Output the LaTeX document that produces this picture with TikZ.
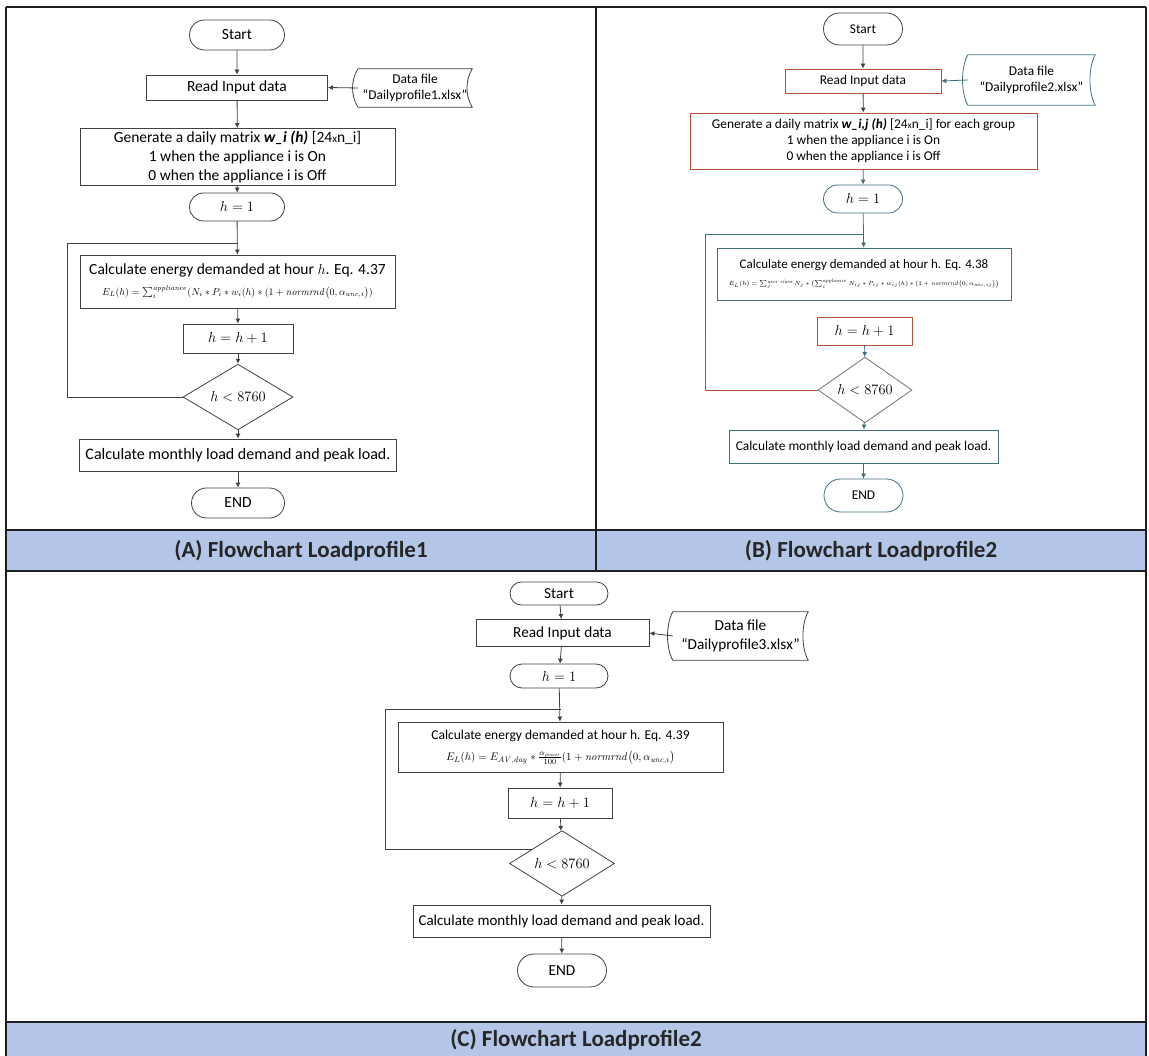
\documentclass[tikz,border=0pt]{standalone}
\usepackage{amsmath}
\usepackage[no-math]{fontspec}
\setmainfont{Carlito}
\usetikzlibrary{shapes.misc,shapes.geometric,arrows.meta,calc}

\definecolor{capblue}{HTML}{B4C6E7}
\definecolor{redB}{HTML}{B8533E}
\definecolor{tealB}{HTML}{3E6E80}
\definecolor{ink}{HTML}{404040}

% outline of a "stored data" symbol drawn around a plain node
\newcommand{\storedoutline}[2][]{%
  \draw[line width=0.8pt, draw=ink, #1] (#2.north west)
    .. controls ($(#2.north west)+(-7,12)$) and ($(#2.south west)+(-7,-12)$) .. (#2.south west)
    -- (#2.south east)
    .. controls ($(#2.south east)+(-7,-12)$) and ($(#2.north east)+(-7,12)$) .. (#2.north east)
    -- cycle;}
\newcommand{\fs}[1]{\fontsize{#1}{1.2\dimexpr#1pt\relax}\selectfont}

\begin{document}
\begin{tikzpicture}[x=1pt, y=-1pt,
  every node/.style={font=\fs{15.5}},
  term/.style={rounded rectangle, draw=ink, line width=0.8pt, inner sep=0pt, align=center},
  proc/.style={rectangle, draw=ink, line width=0.8pt, inner sep=0pt, align=center},
  dec/.style={diamond, draw=ink, line width=0.8pt, inner sep=0pt},
  store/.style={rectangle, inner sep=0pt, align=center},
  link/.style={draw=ink, line width=0.8pt},
  arr/.style={link, -{Latex[length=5pt,width=5pt]}},
  frame/.style={draw=black!88, line width=2.4pt},
  caption/.style={font=\fs{23}\bfseries, text=black!85},
]
\useasboundingbox (0,0) rectangle (1149,1056);

% ---------- table frame and caption bands ----------
\fill[capblue] (6,530) rectangle (1146,571);
\fill[capblue] (6,1022) rectangle (1146,1056);
\draw[frame] (6,7) -- (1146,7);
\draw[frame] (6,7) -- (6,1056);
\draw[frame] (1146,7) -- (1146,1056);
\draw[frame] (6,530) -- (1146,530);
\draw[frame] (6,571) -- (1146,571);
\draw[frame] (6,1022) -- (1146,1022);
\draw[draw=black!88, line width=1.6pt] (596,7) -- (596,571);

\node[caption] (capA) at (301,551) {(A) Flowchart Loadprofile1};
\node[caption] (capB) at (871,551) {(B) Flowchart Loadprofile2};
\node[caption] (capC) at (576,1040) {(C) Flowchart Loadprofile2};

% ---------- (A) ----------
\node[term, minimum width=95, minimum height=30] (aS) at (237,35) {Start};
\node[proc, minimum width=181, minimum height=25] (aR) at (237,87.5) {Read Input data};
\node[store, minimum width=114, minimum height=38, font=\fs{13.5}] (aD) at (415,88) {Data file\\“Dailyprofile1.xlsx”};
\storedoutline{aD}
\node[proc, minimum width=315, minimum height=57] (aG) at (237.5,157)
  {Generate a daily matrix \textbf{\textit{w\_i (h)}} [24{\fs{11}x}n\_i]\\
   1 when the appliance i is On\\0 when the appliance i is Off};
\node[term, minimum width=95, minimum height=28] (aH) at (237,207) {$h=1$};
\node[proc, minimum width=315, minimum height=53] (aC) at (237.5,281.5)
  {Calculate energy demanded at hour $h$. Eq. 4.37\\[2pt]
   {\fs{9.7}$E_L(h)=\sum_i^{\mathit{appliance}}(N_i\ast P_i\ast w_i(h)\ast(1+\mathit{normrnd}\bigl(0,\alpha_{\mathit{unc},i}\bigr))$}};
\node[proc, minimum width=110, minimum height=29] (aI) at (238,338.5) {$h=h+1$};
\node[dec, minimum width=110, minimum height=48] (aQ) at (238,397) {$h<8760$};
\node[proc, minimum width=317, minimum height=32, font=\fs{16}] (aM) at (238,455) {Calculate monthly load demand and peak load.};
\node[term, minimum width=93, minimum height=30] (aE) at (238,503) {END};
\coordinate (aL) at (67,243);

\draw[arr] (aS) -- (aR);
\draw[arr] (aD.west) -- (aR.east);
\draw[arr] (aR) -- (aG);
\draw[arr] (aG) -- (aH);
\draw[arr] (aH) -- (aC);
\draw[link] (aQ.west) -| (aL) -- (aL -| aC.north);
\draw[arr] (aC) -- (aI);
\draw[arr] (aI) -- (aQ);
\draw[arr] (aQ) -- (aM);
\draw[arr] (aM) -- (aE);

% ---------- (B) ----------
\begin{scope}[every node/.style={font=\fs{13.4}}]
\node[term, minimum width=79, minimum height=32] (bS) at (863,29) {Start};
\node[proc, draw=redB, minimum width=156, minimum height=24] (bR) at (863,81) {Read Input data};
\node[store, minimum width=127, minimum height=50] (bD) at (1031.5,80) {Data file\\“Dailyprofile2.xlsx”};
\storedoutline[draw=tealB]{bD}
\node[proc, draw=redB, minimum width=347, minimum height=56] (bG) at (863.5,141)
  {Generate a daily matrix \textbf{\textit{w\_i,j (h)}} [24{\fs{9.5}x}n\_i] for each group\\
   1 when the appliance i is On\\0 when the appliance i is Off};
\node[term, draw=tealB, minimum width=79, minimum height=28] (bH) at (863,199) {$h=1$};
\node[proc, draw=tealB, minimum width=294, minimum height=52, font=\fs{13}] (bC) at (864,274)
  {Calculate energy demanded at hour h. Eq. 4.38\\[2pt]
   {\fs{6.5}$E_L(h)=\sum_j^{\mathit{user\ class}}N_j\ast\bigl(\sum_i^{\mathit{appliance}}N_{ij}\ast P_{ij}\ast w_{ij}(h)\ast(1+\mathit{normrnd}\bigl(0,\alpha_{\mathit{unc},ij}\bigr)\bigr)$}};
\node[proc, draw=redB, minimum width=95, minimum height=28] (bI) at (864.5,331) {$h=h+1$};
\node[dec, draw=black!55, minimum width=94, minimum height=46] (bQ) at (865,390) {$h<8760$};
\node[proc, draw=tealB, minimum width=269, minimum height=33] (bM) at (863.5,446.5) {Calculate monthly load demand and peak load.};
\node[term, draw=tealB, minimum width=79, minimum height=33] (bE) at (863.5,495.5) {END};
\end{scope}
\coordinate (bL) at (705,234);
\coordinate (bK) at (705,330);

\draw[arr] (bS) -- (bR);
\draw[arr, draw=tealB] (bD.west) -- (bR.east);
\draw[arr] (bR) -- (bG);
\draw[arr, draw=tealB] (bG) -- (bH);
\draw[arr, draw=tealB] (bH) -- (bC);
\draw[link, draw=redB] (bQ.west) -| (bK);
\draw[link, draw=tealB] (bK) -- (bL) -- (bL -| bC.north);
\draw[arr, draw=tealB] (bI) -- (bQ);
\draw[arr, draw=tealB] (bQ) -- (bM);
\draw[arr, draw=tealB] (bM) -- (bE);

% ---------- (C) ----------
\begin{scope}[every node/.style={font=\fs{15.3}}]
\node[term, minimum width=98, minimum height=23] (cS) at (559,593.5) {Start};
\node[proc, minimum width=173, minimum height=27] (cR) at (562.5,633) {Read Input data};
\node[store, minimum width=135, minimum height=48] (cD) at (740.5,636) {Data file\\“Dailyprofile3.xlsx”};
\storedoutline{cD}
\node[term, minimum width=98, minimum height=24] (cH) at (559,676) {$h=1$};
\node[proc, minimum width=325, minimum height=50, font=\fs{13.5}] (cC) at (560.5,747)
  {Calculate energy demanded at hour h. Eq. 4.39\\[5pt]
   {\fs{11}$E_L(h)=E_{\mathit{AV},\mathit{day}}\ast\frac{\alpha_{\mathit{power}}}{100}(1+\mathit{normrnd}\bigl(0,\alpha_{\mathit{unc},i}\bigr)$}};
\node[proc, minimum width=104, minimum height=30] (cI) at (560,803) {$h=h+1$};
\node[dec, minimum width=105, minimum height=47] (cQ) at (562,863.5) {$h<8760$};
\node[proc, minimum width=297, minimum height=32, font=\fs{15}] (cM) at (561.5,921) {Calculate monthly load demand and peak load.};
\node[term, minimum width=89, minimum height=33] (cE) at (562,970.5) {END};
\end{scope}
\coordinate (cL) at (385,709);
\coordinate (cT) at ($(cQ.west)!0.43!(cQ.north)$);

\draw[arr] (cS) -- (cR);
\draw[arr] (cD.west) -- (cR.east);
\draw[arr] (cR) -- (cH);
\draw[arr] (cH) -- (cC);
\draw[link] (cT) -| (cL) -- (cL -| cC.north);
\draw[arr] (cC) -- (cI);
\draw[arr] (cI) -- (cQ);
\draw[arr] (cQ) -- (cM);
\draw[arr] (cM) -- (cE);
\end{tikzpicture}
\end{document}
